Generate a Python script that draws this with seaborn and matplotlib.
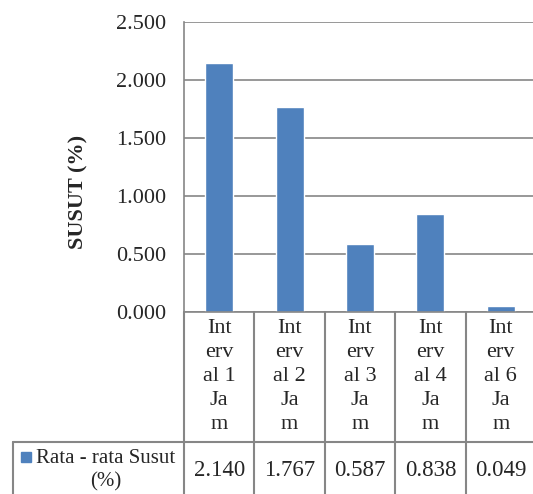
import numpy as np
import matplotlib
matplotlib.use("Agg")
import matplotlib.pyplot as plt
import matplotlib.transforms as mtrans
from matplotlib.lines import Line2D
from matplotlib.patches import Rectangle
import seaborn as sns

sns.set_theme(style="white")
plt.rcParams['font.family'] = ['Liberation Serif', 'DejaVu Serif']

# data
categories = ["Interval 1 Jam", "Interval 2 Jam", "Interval 3 Jam", "Interval 4 Jam", "Interval 6 Jam"]
cat_labels = ["Int\nerv\nal 1\nJa\nm", "Int\nerv\nal 2\nJa\nm", "Int\nerv\nal 3\nJa\nm",
              "Int\nerv\nal 4\nJa\nm", "Int\nerv\nal 6\nJa\nm"]
susut = [2.140, 1.767, 0.587, 0.838, 0.049]
series_name = "Rata - rata Susut\n(%)"
yticks = [0.0, 0.5, 1.0, 1.5, 2.0, 2.5]

W, H = 533, 494
bar_color = "#4F81BD"
line_color = "#868686"

fig = plt.figure(figsize=(W / 100, H / 100), dpi=100)
fig.patch.set_facecolor("white")

# plot area (pixels): left 184, top 21.7, bottom 311.7, right ~536
ax = fig.add_axes([184 / W, 1 - 311.7 / H, 352 / W, 290 / H])
sns.barplot(x=categories, y=susut, color=bar_color, saturation=1, width=0.4, ax=ax)
ax.set_xlim(-0.5, len(categories) - 0.5)
ax.set_ylim(0, 2.5)
ax.set_yticks(yticks)
ax.set_yticklabels(["%.3f" % t for t in yticks], fontsize=16)
ax.set_xticks([])
ax.set_xlabel("")
ax.yaxis.grid(True, color=line_color, lw=1.2)
ax.set_axisbelow(True)
ax.tick_params(axis="y", length=0, pad=13)
for s in ["top", "right"]:
    ax.spines[s].set_visible(False)
for s in ["left", "bottom"]:
    ax.spines[s].set_color(line_color)
    ax.spines[s].set_linewidth(1.2)
ax.set_ylabel("SUSUT (%)", fontsize=16, fontweight="bold")
ax.yaxis.set_label_coords(-0.272, 0.413)

# data table below the plot
tr = mtrans.blended_transform_factory(ax.transData, fig.transFigure)
def fy(px):
    return 1 - px / H

for i in range(len(categories) + 1):
    fig.add_artist(Line2D([i - 0.5, i - 0.5], [fy(311.7), 0], transform=tr,
                          color=line_color, lw=1.5))
fig.add_artist(Line2D([13 / W, 1], [fy(441.7), fy(441.7)], color=line_color, lw=1.5))
fig.add_artist(Line2D([13 / W, 13 / W], [fy(441.7), 0], color=line_color, lw=1.5))

for i, (lab, v) in enumerate(zip(cat_labels, susut)):
    fig.text(i, fy(319), lab, transform=tr, ha="center", va="top", fontsize=16,
             linespacing=1.36)
    fig.text(i, fy(470), "%.3f" % v, transform=tr, ha="center", va="center", fontsize=16.5)

fig.text(106 / W, fy(470), series_name, ha="center", va="center", fontsize=15,
         multialignment="center", linespacing=1.3)
fig.add_artist(Rectangle((20.7 / W, fy(461.7)), 10 / W, 10 / H, color=bar_color,
                         transform=fig.transFigure))

fig.savefig("out.png", dpi=100)
